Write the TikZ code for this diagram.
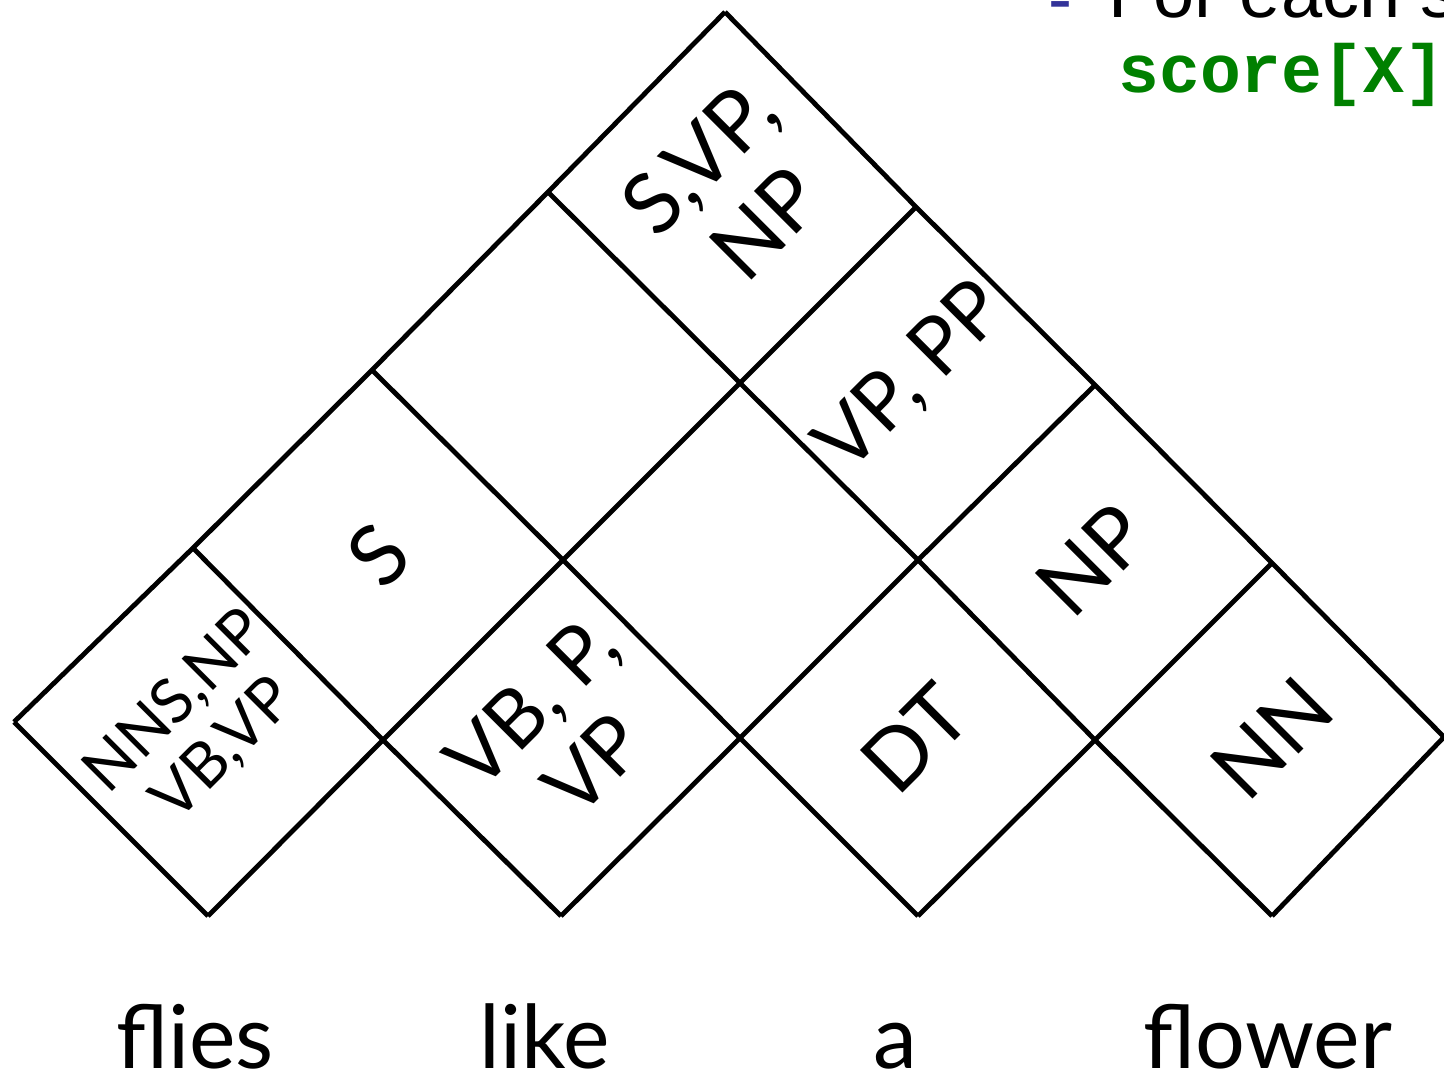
\documentclass[tikz,border=0pt]{standalone}
\usepackage{fontspec}
\setmainfont{Lato}
\newfontfamily\slidefont{Liberation Sans}
\newfontfamily\codefont{Liberation Mono}
\definecolor{codegreen}{RGB}{0,128,0}
\definecolor{bulletblue}{RGB}{51,51,153}
\begin{document}
\begin{tikzpicture}[x=0.5pt,y=-0.5pt,
  chart/.style={line width=2.4pt, line join=miter, line cap=butt},
  cell/.style={rotate=45, align=center, inner sep=0pt, font=\fontsize{42}{46}\selectfont},
  word/.style={anchor=base, inner sep=0pt, font=\fontsize{44}{48}\selectfont}]
\useasboundingbox (0,0) rectangle (1444,1076);
\clip (0,0) rectangle (1444,1076);
% lattice vertices
\coordinate (B1) at (208,916);
\coordinate (B2) at (561,916);
\coordinate (B3) at (918,916);
\coordinate (B4) at (1272,916);
\coordinate (M0) at (14,722);
\coordinate (M1) at (383,740);
\coordinate (M2) at (740,738);
\coordinate (M3) at (1095,740);
\coordinate (M4) at (1444,737);
\coordinate (T1) at (193,548);
\coordinate (T2) at (563,560);
\coordinate (T3) at (918,560);
\coordinate (T4) at (1272,563);
\coordinate (U1) at (372,370);
\coordinate (U2) at (740,383);
\coordinate (U3) at (1095,385);
\coordinate (V1) at (548,192);
\coordinate (V2) at (916,207);
\coordinate (AP) at (725,12);
% down-right lines
\draw[chart] (M0) -- (B1);
\draw[chart] (T1) -- (M1) -- (B2);
\draw[chart] (U1) -- (T2) -- (M2) -- (B3);
\draw[chart] (V1) -- (U2) -- (T3) -- (M3) -- (B4);
\draw[chart] (AP) -- (V2) -- (U3) -- (T4) -- (M4);
% up-right lines
\draw[chart] (M0) -- (T1) -- (U1) -- (V1) -- (AP);
\draw[chart] (B1) -- (M1) -- (T2) -- (U2) -- (V2);
\draw[chart] (B2) -- (M2) -- (T3) -- (U3);
\draw[chart] (B3) -- (M3) -- (T4);
\draw[chart] (B4) -- (M4);
% cell labels
\node[cell, font=\fontsize{31}{34}\selectfont] (c11) at (200,726) {NNS,NP\\VB,VP};
\node[cell, font=\fontsize{40}{44}\selectfont] (c22) at (562,733) {VB, P,\\VP};
\node[cell] (c33) at (915,738) {DT};
\node[cell] (c44) at (1272,738) {NN};
\node[cell] (c12) at (378,555) {S};
\node[cell] (c34) at (1092,560) {NP};
\node[cell, font=\fontsize{40}{44}\selectfont] (c24) at (912,378) {VP, PP};
\node[cell, font=\fontsize{42}{47}\selectfont] (c14) at (732,190) {S,VP,\\NP};
% words
\node[word] (w1) at (195,1068) {flies};
\node[word] (w2) at (545,1068) {like};
\node[word] (w3) at (895,1068) {a};
\node[word] (w4) at (1268,1068) {flower};
% slide text at top right
\node[anchor=base west, inner sep=0pt, text=bulletblue, font=\slidefont\fontsize{36}{40}\selectfont] (bul) at (1048,23) {-};
\node[anchor=base west, inner sep=0pt, font=\slidefont\fontsize{37}{40}\selectfont] (t1) at (1108,18) {For each s};
\node[anchor=base west, inner sep=0pt, text=codegreen, font=\codefont\bfseries\fontsize{34}{36}\selectfont] (t2) at (1118,92) {score[X]};
\end{tikzpicture}
\end{document}
